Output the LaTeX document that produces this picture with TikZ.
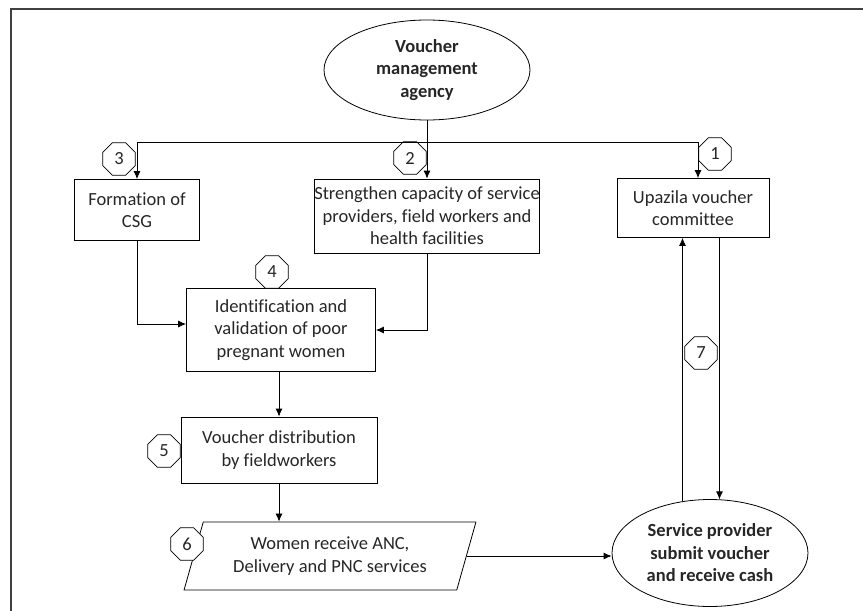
\documentclass[tikz,border=0pt]{standalone}
\usepackage{fontspec}
\setmainfont{Carlito}[Ligatures=NoCommon]
\usetikzlibrary{shapes.geometric,arrows.meta}

\begin{document}
\begin{tikzpicture}[
        x=1pt, y=-1pt,
        every node/.style={font=\fontsize{18.5}{22.5}\selectfont, text=black!85},
        block/.style={draw, rectangle, align=center, inner sep=0pt},
        oval/.style={draw, ellipse, align=center, inner sep=0pt, font=\fontsize{18.5}{22.5}\selectfont\bfseries},
        slant/.style={draw, trapezium, trapezium left angle=69, trapezium right angle=111, trapezium stretches=true, align=center, inner sep=0pt},
        badge/.style={draw, fill=white, regular polygon, regular polygon sides=8, minimum size=35pt, inner sep=0pt},
        forward/.style={-{Latex[length=8pt,width=7pt]}},
        line width=0.8pt
    ]
        \useasboundingbox (0,0) rectangle (863,611);
        \draw[line width=1.4pt, black!75] (11,611) -- (11,9) -- (863,9);
        \node[oval, minimum width=206, minimum height=100] (agency) at (427,70) {Voucher\\management\\agency};
        \node[block, minimum width=125, minimum height=61] (csg) at (137,210) {Formation of\\CSG};
        \node[block, minimum width=221, minimum height=74] (strengthen) at (427,216) {Strengthen capacity of service\\providers, field workers and\\health facilities};
        \node[block, minimum width=152, minimum height=59] (upazila) at (693,208) {Upazila voucher\\committee};
        \node[block, minimum width=189, minimum height=83] (identify) at (281,330) {Identification and\\validation of poor\\pregnant women};
        \node[block, minimum width=196, minimum height=66] (distribute) at (279,450) {Voucher distribution\\by fieldworkers};
        \node[slant, minimum width=292, minimum height=68] (receive) at (330,556) {Women receive ANC,\\Delivery and PNC services};
        \node[oval, minimum width=196, minimum height=107] (provider) at (710,553) {Service provider\\submit voucher\\and receive cash};
        \coordinate (split) at (427,142);
        % numbered steps
        \node[badge] (n1) at (715,154) {1};
        \node[badge] (n2) at (410,158) {2};
        \node[badge] (n3) at (119,159) {3};
        \node[badge] (n4) at (272,272) {4};
        \node[badge] (n5) at (164,451) {5};
        \node[badge] (n6) at (187,544) {6};
        \node[badge] (n7) at (701,353) {7};
        % connectors
        \draw[forward] (agency) -- (strengthen);
        \draw[forward] (split) -| (csg);
        \draw[forward] (split) -| ([shift={(5,0)}]upazila.north);
        \draw[forward] (csg.south) |- ([shift={(0,-6)}]identify.west);
        \draw[forward] (strengthen.south) |- (identify.east);
        \draw[forward] (distribute.north |- identify.south) -- (distribute.north);
        \draw[forward] (distribute.south) -- (distribute.south |- receive.north);
        \draw[forward] (receive.east) -- (receive.east -| provider.west);
        \draw[forward] (provider.118) -- (provider.118 |- upazila.south);
        \draw[forward] (provider.80 |- upazila.south) -- (provider.80);
    \end{tikzpicture}
\end{document}
